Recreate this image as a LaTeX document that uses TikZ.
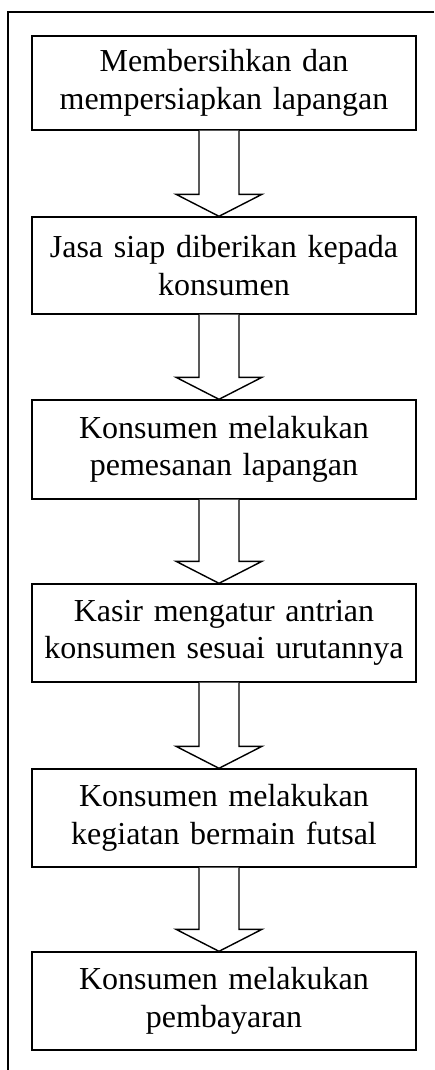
\documentclass[tikz,border=0pt]{standalone}
\usepackage{fontspec}
\setmainfont{Liberation Serif}
\usetikzlibrary{calc}
\tikzset{
  stepbox/.style={draw, line width=1.4pt, minimum width=384pt, text width=376pt, align=center, inner sep=0pt, font=\fontsize{32}{37.5}\selectfont},
  fatarrow/.style={draw, line width=1.4pt, line join=miter, fill=white}
}
\newcommand{\fatconn}[2]{%
  \draw[fatarrow] ($(#1.south)+(-25,0)$) -- ($(#2.north)+(-25,-22)$) -- ($(#2.north)+(-48,-22)$) -- ($(#2.north)+(-5,0)$) -- ($(#2.north)+(38,-22)$) -- ($(#2.north)+(15,-22)$) -- ($(#1.south)+(15,0)$);}
\begin{document}
\begin{tikzpicture}[x=1pt,y=-1pt]
\useasboundingbox[fill=white] (0,0) rectangle (434,1070);
\coordinate (ftop) at (434,12);
\coordinate (fcorner) at (8,12);
\coordinate (fbot) at (8,1070);
\draw[line width=1.6pt] (ftop) -- (fcorner) -- (fbot);
\node[stepbox, minimum height=94pt] (b1) at (224,83) {Membersihkan dan\\mempersiapkan lapangan};
\node[stepbox, minimum height=97pt] (b2) at (224,265.5) {Jasa siap diberikan kepada\\konsumen};
\node[stepbox, minimum height=99pt] (b3) at (224,449.5) {Konsumen melakukan\\pemesanan lapangan};
\node[stepbox, minimum height=98pt] (b4) at (224,633) {Kasir mengatur antrian\\konsumen sesuai urutannya};
\node[stepbox, minimum height=98pt] (b5) at (224,818) {Konsumen melakukan\\kegiatan bermain futsal};
\node[stepbox, minimum height=98pt] (b6) at (224,1001) {Konsumen melakukan\\pembayaran};
\fatconn{b1}{b2}
\fatconn{b2}{b3}
\fatconn{b3}{b4}
\fatconn{b4}{b5}
\fatconn{b5}{b6}
\end{tikzpicture}
\end{document}
